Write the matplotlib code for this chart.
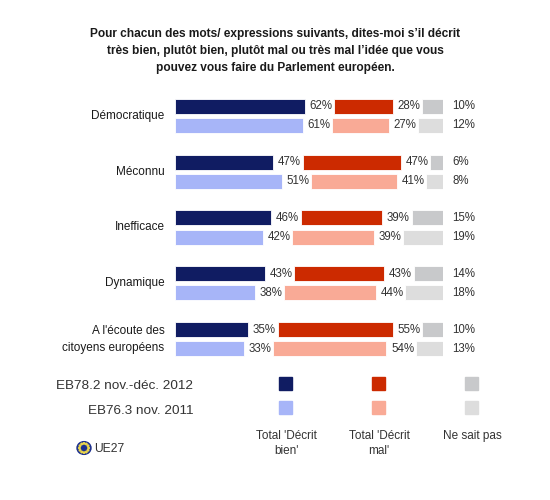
import matplotlib
matplotlib.use("Agg")
import matplotlib.pyplot as plt
from matplotlib.patches import Rectangle, Circle
import numpy as np

plt.rcParams['font.family'] = ['Liberation Sans', 'DejaVu Sans']

categories = ["Démocratique", "Méconnu", "Inefficace", "Dynamique",
              "A l'écoute des\ncitoyens européens"]
bien_2012 = [62, 47, 46, 43, 35]
mal_2012 = [28, 47, 39, 43, 55]
nsp_2012 = [10, 6, 15, 14, 10]
bien_2011 = [61, 51, 42, 38, 33]
mal_2011 = [27, 41, 39, 44, 54]
nsp_2011 = [12, 8, 19, 18, 13]
series_labels = ["EB78.2 nov.-déc. 2012", "EB76.3 nov. 2011"]
answer_labels = ["Total 'Décrit\nbien'", "Total 'Décrit\nmal'", "Ne sait pas"]
title = ("Pour chacun des mots/ expressions suivants, dites-moi s\u2019il décrit\n"
         "très bien, plutôt bien, plutôt mal ou très mal l\u2019idée que vous\n"
         "pouvez vous faire du Parlement européen.")

col_2012 = ["#101C62", "#CC2A00", "#C8C9CB"]
col_2011 = ["#A7B5F8", "#F9AA96", "#DDDDDD"]
txt_col = "#333333"

W, H = 550, 500
fig = plt.figure(figsize=(W / 100, H / 100), dpi=100)

def fx(px):
    return px / W

def fy(py):
    return 1 - py / H

G = 14.0  # gap between segments (data units)
ax = fig.add_axes([fx(175), fy(367), fx(443) - fx(175), (367 - 88) / H])
ax.set_xlim(0, 100 + 2 * G)
ax.set_ylim(4.5, -0.5)
ax.axis('off')

bh = 15 / 55.75
off = 9.5 / 55.75
ypos = np.arange(len(categories))

for data, cols, dy in [((bien_2012, mal_2012, nsp_2012), col_2012, -off),
                       ((bien_2011, mal_2011, nsp_2011), col_2011, off)]:
    b, m, n = [np.array(d, dtype=float) for d in data]
    y = ypos + dy
    starts = [np.zeros_like(b), b + G, b + m + 2 * G]
    widths = [b, m, n]
    for s, w, c in zip(starts, widths, cols):
        ax.barh(y, w, left=s, height=bh, color=c, edgecolor='white', linewidth=0.6)
    for i in range(len(y)):
        ax.text(b[i] + 2.2, y[i], f"{int(b[i])}%", va='center', ha='left',
                fontsize=8.3, color=txt_col)
        ax.text(b[i] + G + m[i] + 2.2, y[i], f"{int(m[i])}%", va='center', ha='left',
                fontsize=8.3, color=txt_col)
        ax.text(100 + 2 * G + 4.5, y[i], f"{int(n[i])}%", va='center', ha='left',
                fontsize=8.3, color=txt_col, clip_on=False)

for i, c in enumerate(categories):
    ax.text(-5, ypos[i], c, ha='right', va='center', fontsize=8.5, color='#1a1a1a',
            linespacing=1.55)

# Title
fig.text(fx(275), fy(51), title, ha='center', va='center', fontsize=8.6,
         fontweight='bold', color='#1a1a1a', linespacing=1.6)

# Legend
fig.text(fx(193), fy(386), series_labels[0], ha='right', va='center',
         fontsize=9.7, color=txt_col)
fig.text(fx(193), fy(411), series_labels[1], ha='right', va='center',
         fontsize=9.7, color=txt_col)
sw_x = [285, 378, 471]
for j in range(3):
    for yy, cols in [(383, col_2012), (407, col_2011)]:
        fig.patches.append(Rectangle((fx(sw_x[j] - 6.5), fy(yy + 6.5)), fx(13), 13 / H,
                                     transform=fig.transFigure, color=cols[j]))
    fig.text(fx(sw_x[j] + 1), fy(430), answer_labels[j], ha='center', va='top',
             fontsize=8.5, color=txt_col, linespacing=1.35)
# Flag
fx0, fy0 = 84, 448
fig.patches.append(Circle((fx(fx0), fy(fy0)), 7 / W, transform=fig.transFigure,
                          color='#1B2F8F'))
for k in range(12):
    a = 2 * np.pi * k / 12
    fig.patches.append(Circle((fx(fx0 + 4.6 * np.cos(a)), fy(fy0 + 4.6 * np.sin(a))),
                              0.8 / W, transform=fig.transFigure, color='#E8D44D'))
fig.text(fx(94), fy(449), "UE27", ha='left', va='center', fontsize=8.7, color=txt_col)

fig.savefig("out.png", dpi=100)
